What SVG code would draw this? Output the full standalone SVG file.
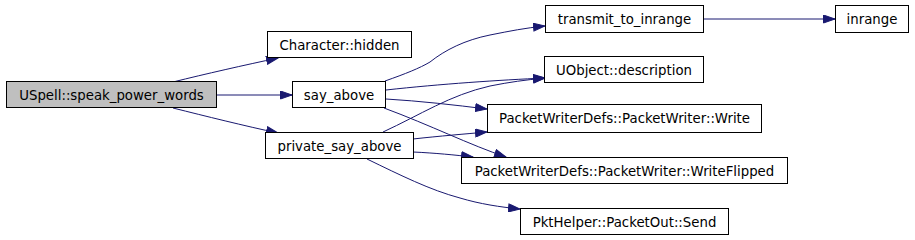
<svg xmlns="http://www.w3.org/2000/svg" width="915" height="240" viewBox="0 0 915 240">
<style>
.n rect{fill:#fff;stroke:#000;stroke-width:1}
.n.h rect{fill:#bfbfbf}
.n text{font-family:"DejaVu Sans",sans-serif;font-size:13.3px;fill:#000;text-anchor:middle}
.e path{fill:none;stroke:#191970;stroke-width:1;marker-end:url(#a)}
</style>
<defs>
<marker id="a" markerUnits="userSpaceOnUse" markerWidth="13" markerHeight="9" refX="12" refY="4.5" orient="auto">
<path d="M0.5,0.5 L12,4.5 L0.5,8.5 z" fill="#191970" stroke="#191970" stroke-width="1"/>
</marker>
</defs>
<rect width="915" height="240" fill="#fff"/>
<g class="e" id="connectors">
<path d="M173,82 C205,74 245,65 278,58"/>
<path d="M216,95 L292,95"/>
<path d="M173,108 C205,116 245,126 278,133"/>
<path d="M385,81 C405,74 420,68 430,62 C445,50 465,40 490,35 C510,31 525,28 545,26"/>
<path d="M386,90 C440,84 500,80 545,78"/>
<path d="M386,99 C420,101 455,105 487,109"/>
<path d="M384,108 C430,125 470,145 506,157"/>
<path d="M383,132 C420,115 450,95 490,86 C510,82 525,80 545,78"/>
<path d="M413,139 C440,136 465,134 487,132"/>
<path d="M413,152 C435,153 455,155 473,157"/>
<path d="M367,159 C400,175 430,190 460,198 C480,204 500,207 520,209"/>
<path d="M703,19 L835,19"/>
</g>
<g class="n h" id="node-speak"><rect x="6.5" y="81.5" width="210" height="26"/><text x="111.5" y="99.5">USpell::speak_power_words</text></g>
<g class="n" id="node-hidden"><rect x="267.5" y="31.5" width="144" height="26"/><text x="339.5" y="49.5">Character::hidden</text></g>
<g class="n" id="node-say"><rect x="292.5" y="81.5" width="93" height="26"/><text x="339" y="99.5">say_above</text></g>
<g class="n" id="node-private"><rect x="265.5" y="132.5" width="148" height="26"/><text x="339.5" y="150.5">private_say_above</text></g>
<g class="n" id="node-transmit"><rect x="545.5" y="5.5" width="158" height="27"/><text x="624.5" y="23.5">transmit_to_inrange</text></g>
<g class="n" id="node-inrange"><rect x="835.5" y="5.5" width="73" height="27"/><text x="872" y="23.5">inrange</text></g>
<g class="n" id="node-desc"><rect x="544.5" y="56.5" width="159" height="26"/><text x="624" y="74.5">UObject::description</text></g>
<g class="n" id="node-write"><rect x="487.5" y="104.5" width="274" height="28"/><text x="624.5" y="123">PacketWriterDefs::PacketWriter::Write</text></g>
<g class="n" id="node-flipped"><rect x="461.5" y="157.5" width="326" height="26"/><text x="624.5" y="175.5">PacketWriterDefs::PacketWriter::WriteFlipped</text></g>
<g class="n" id="node-send"><rect x="520.5" y="208.5" width="208" height="26"/><text x="624.5" y="226.5">PktHelper::PacketOut::Send</text></g>
</svg>
